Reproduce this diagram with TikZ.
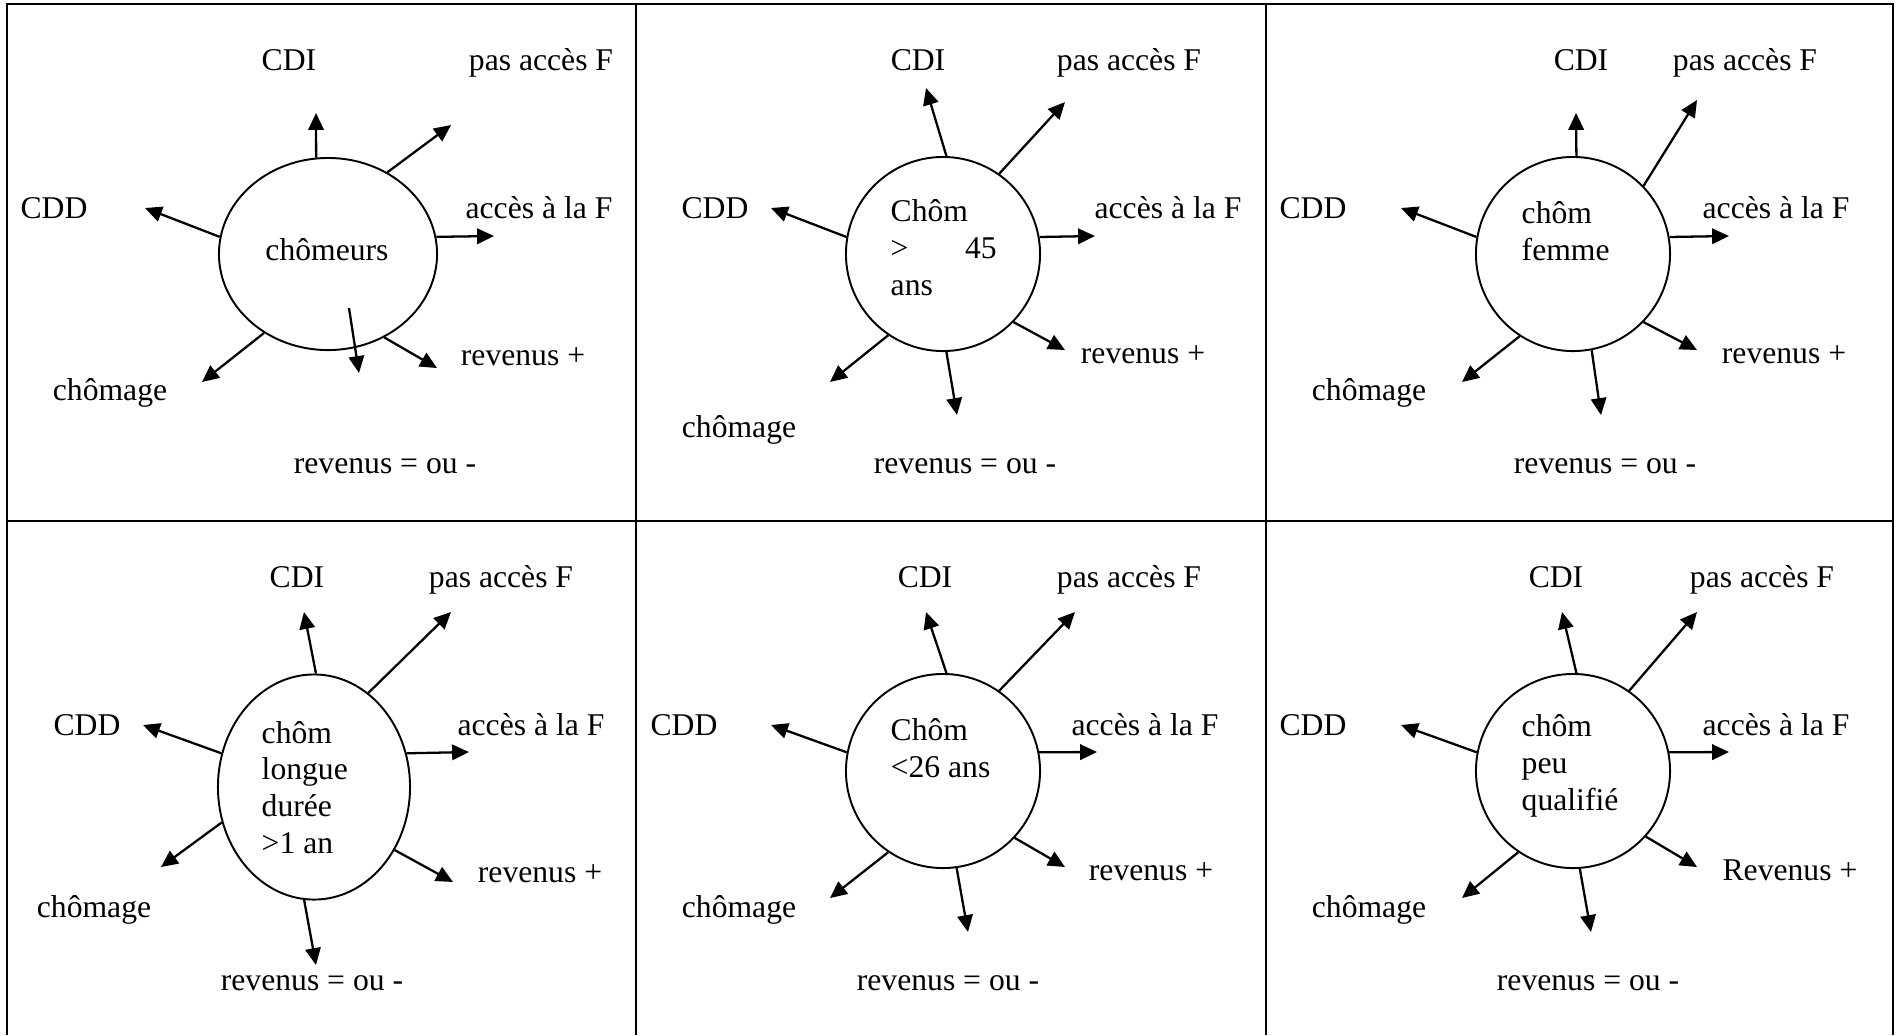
\documentclass[tikz,border=0pt]{standalone}
\usepackage{fontspec}
\setmainfont{Liberation Serif}
\usetikzlibrary{arrows.meta,shapes.geometric}

\tikzset{
  lbl/.style={inner sep=0pt, anchor=base, font=\fontsize{9}{10.4}\selectfont},
  inner/.style={inner sep=0pt, anchor=base west, align=left, font=\fontsize{9}{10.4}\selectfont},
  blob/.style={draw, ellipse, inner sep=0pt, line width=0.55pt},
  arr/.style={-{Triangle[length=4.8pt,width=4.4pt]}, line width=0.65pt},
  grid/.style={line width=0.75pt}
}

\begin{document}
\begin{tikzpicture}[x=0.01cm,y=-0.01cm]
\useasboundingbox (0,0) rectangle (1896,1035);

% Table
\draw[grid] (7,1035) -- (7,4) -- (1893,4) -- (1893,1035);
\draw[grid] (636,4) -- (636,1035);
\draw[grid] (1266,4) -- (1266,1035);
\draw[grid] (7,521) -- (1893,521);

% Panel 1: chômeurs
\node[blob, minimum width=2.18cm, minimum height=1.92cm] (e1) at (328,254) {};
\node[lbl] (t1) at (327,260) {chômeurs};
\node[lbl] (c1) at (289,70) {CDI};
\node[lbl] (p1) at (541,70) {pas accès F};
\node[lbl] (d1) at (54,218) {CDD};
\node[lbl] (f1) at (539,218) {accès à la F};
\node[lbl] (r1) at (523,365) {revenus +};
\node[lbl] (g1) at (110,400) {chômage};
\node[lbl] (m1) at (385,473) {revenus = ou -};
\coordinate (c1e) at (316,113);
\coordinate (p1e) at (451,125);
\coordinate (d1e) at (145,208);
\coordinate (f1e) at (494,236);
\coordinate (r1e) at (437,368);
\coordinate (m1s) at (349,308);
\coordinate (m1e) at (359,373);
\coordinate (g1e) at (202,382);
\draw[arr] (e1.97) -- (c1e);
\draw[arr] (e1.54) -- (p1e);
\draw[arr] (e1.171) -- (d1e);
\draw[arr] (e1.9) -- (f1e);
\draw[arr] (e1.-56) -- (r1e);
\draw[arr] (m1s) -- (m1e);
\draw[arr] (e1.231) -- (g1e);

% Panel 2: Chôm > 45 ans
\node[blob, minimum width=1.94cm, minimum height=1.94cm] (e2) at (943,254) {};
\node[inner] (t2) at (890,295) {Chôm\\\makebox[1.06cm][l]{>\hfill 45}\\ans};
\node[lbl] (c2) at (918,70) {CDI};
\node[lbl] (p2) at (1129,70) {pas accès F};
\node[lbl] (d2) at (715,218) {CDD};
\node[lbl] (f2) at (1168,218) {accès à la F};
\node[lbl] (r2) at (1143,363) {revenus +};
\node[lbl] (g2) at (739,437) {chômage};
\node[lbl] (m2) at (965,473) {revenus = ou -};
\coordinate (c2e) at (926,88);
\coordinate (p2e) at (1065,102);
\coordinate (d2e) at (771,208);
\coordinate (f2e) at (1095,236);
\coordinate (r2e) at (1065,350);
\coordinate (m2e) at (957,415);
\coordinate (g2e) at (830,382);
\draw[arr] (e2.88) -- (c2e);
\draw[arr] (e2.55) -- (p2e);
\draw[arr] (e2.170) -- (d2e);
\draw[arr] (e2.10) -- (f2e);
\draw[arr] (e2.-44) -- (r2e);
\draw[arr] (e2.-88) -- (m2e);
\draw[arr] (e2.236) -- (g2e);

% Panel 3: chôm femme
\node[blob, minimum width=1.94cm, minimum height=1.94cm] (e3) at (1573,254) {};
\node[inner] (t3) at (1521,260) {chôm\\femme};
\node[lbl] (c3) at (1581,70) {CDI};
\node[lbl] (p3) at (1745,70) {pas accès F};
\node[lbl] (d3) at (1313,218) {CDD};
\node[lbl] (f3) at (1776,218) {accès à la F};
\node[lbl] (r3) at (1784,363) {revenus +};
\node[lbl] (g3) at (1369,400) {chômage};
\node[lbl] (m3) at (1605,473) {revenus = ou -};
\coordinate (c3e) at (1576,113);
\coordinate (p3e) at (1697,100);
\coordinate (d3e) at (1401,208);
\coordinate (f3e) at (1729,236);
\coordinate (r3e) at (1697,350);
\coordinate (m3e) at (1601,415);
\coordinate (g3e) at (1462,382);
\draw[arr] (e3.88) -- (c3e);
\draw[arr] (e3.44) -- (p3e);
\draw[arr] (e3.170) -- (d3e);
\draw[arr] (e3.10) -- (f3e);
\draw[arr] (e3.-44) -- (r3e);
\draw[arr] (e3.-79) -- (m3e);
\draw[arr] (e3.237) -- (g3e);

% Panel 4: chôm longue durée
\node[blob, minimum width=1.92cm, minimum height=2.25cm] (e4) at (314,787) {};
\node[inner] (t4) at (261,853) {chôm\\longue\\durée\\>1 an};
\node[lbl] (c4) at (297,587) {CDI};
\node[lbl] (p4) at (501,587) {pas accès F};
\node[lbl] (d4) at (87,735) {CDD};
\node[lbl] (f4) at (531,735) {accès à la F};
\node[lbl] (r4) at (540,882) {revenus +};
\node[lbl] (g4) at (94,917) {chômage};
\node[lbl] (m4) at (312,990) {revenus = ou -};
\coordinate (c4e) at (304,612);
\coordinate (p4e) at (451,612);
\coordinate (d4e) at (143,725);
\coordinate (f4e) at (469,752);
\coordinate (r4e) at (453,882);
\coordinate (m4e) at (316,965);
\coordinate (g4e) at (161,867);
\draw[arr] (e4.89) -- (c4e);
\draw[arr] (e4.60) -- (p4e);
\draw[arr] (e4.160) -- (d4e);
\draw[arr] (e4.20) -- (f4e);
\draw[arr] (e4.-38) -- (r4e);
\draw[arr] (e4.-95) -- (m4e);
\draw[arr] (e4.201) -- (g4e);

% Panel 5: Chôm <26 ans
\node[blob, minimum width=1.94cm, minimum height=1.94cm] (e5) at (943,771) {};
\node[inner] (t5) at (890,777) {Chôm\\<26 ans};
\node[lbl] (c5) at (925,587) {CDI};
\node[lbl] (p5) at (1129,587) {pas accès F};
\node[lbl] (d5) at (684,735) {CDD};
\node[lbl] (f5) at (1145,735) {accès à la F};
\node[lbl] (r5) at (1151,880) {revenus +};
\node[lbl] (g5) at (739,917) {chômage};
\node[lbl] (m5) at (948,990) {revenus = ou -};
\coordinate (c5e) at (926,612);
\coordinate (p5e) at (1075,612);
\coordinate (d5e) at (771,725);
\coordinate (f5e) at (1097,752);
\coordinate (r5e) at (1065,867);
\coordinate (m5e) at (968,932);
\coordinate (g5e) at (830,898);
\draw[arr] (e5.88) -- (c5e);
\draw[arr] (e5.55) -- (p5e);
\draw[arr] (e5.169) -- (d5e);
\draw[arr] (e5.11) -- (f5e);
\draw[arr] (e5.-43) -- (r5e);
\draw[arr] (e5.-82) -- (m5e);
\draw[arr] (e5.236) -- (g5e);

% Panel 6: chôm peu qualifié
\node[blob, minimum width=1.94cm, minimum height=1.94cm] (e6) at (1573,771) {};
\node[inner] (t6) at (1521,810) {chôm\\peu\\qualifié};
\node[lbl] (c6) at (1556,587) {CDI};
\node[lbl] (p6) at (1762,587) {pas accès F};
\node[lbl] (d6) at (1313,735) {CDD};
\node[lbl] (f6) at (1776,735) {accès à la F};
\node[lbl] (r6) at (1790,880) {Revenus +};
\node[lbl] (g6) at (1369,917) {chômage};
\node[lbl] (m6) at (1588,990) {revenus = ou -};
\coordinate (c6e) at (1562,612);
\coordinate (p6e) at (1697,612);
\coordinate (d6e) at (1401,725);
\coordinate (f6e) at (1729,752);
\coordinate (r6e) at (1697,867);
\coordinate (m6e) at (1591,932);
\coordinate (g6e) at (1462,898);
\draw[arr] (e6.88) -- (c6e);
\draw[arr] (e6.55) -- (p6e);
\draw[arr] (e6.169) -- (d6e);
\draw[arr] (e6.11) -- (f6e);
\draw[arr] (e6.-42) -- (r6e);
\draw[arr] (e6.-86) -- (m6e);
\draw[arr] (e6.236) -- (g6e);
\end{tikzpicture}
\end{document}
